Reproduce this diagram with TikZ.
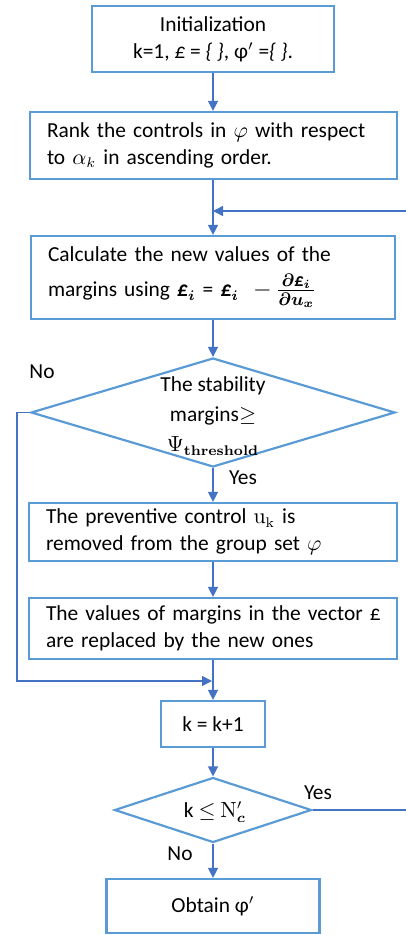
\documentclass[tikz,border=0pt]{standalone}
\usepackage{amsmath}
\usepackage[no-math]{fontspec}
\setmainfont{Carlito}
\usetikzlibrary{shapes.geometric,arrows.meta}
\definecolor{boxblue}{HTML}{5B9BD5}
\definecolor{arrblue}{HTML}{4472C4}
\newcommand\nbr[1]{\mbox{#1}}
\begin{document}
\begin{tikzpicture}[x=0.5pt,y=-0.5pt,
  font=\fontsize{10.7}{13.5}\selectfont,
  box/.style={draw=boxblue, line width=1.1pt, rectangle, inner sep=0pt, align=center},
  lbox/.style={box, align=left, inner xsep=8.5pt},
  dec/.style={draw=boxblue, line width=1.1pt, diamond, inner sep=0pt},
  conn/.style={draw=arrblue, line width=0.7pt},
  arr/.style={conn, -{Triangle[length=5pt,width=5pt]}},
  lbl/.style={inner sep=0pt}
]
\useasboundingbox (0,0) rectangle (406,935);
\node[box, minimum width=121pt, minimum height=33pt] (init) at (213,39)
  {Initialization\\k=1, \textit{£} = \textit{\{ \}}, φ$'$ =\textit{\{ \}}.};
\node[lbox, text width=166.5pt, minimum height=33.5pt] (rank) at (213.5,145.5)
  {\nbr{Rank the controls in $\varphi$ with respect}\\\nbr{to $\alpha_k$ in ascending order.}};
\node[lbox, text width=165pt, minimum height=41.5pt] (calc) at (213,277.5)
  {\nbr{Calculate the new values of the}\\[4pt]\nbr{margins using \textbf{\textit{£}}$_{\boldsymbol{i}}$ = \textbf{\textit{£}}$_{\boldsymbol{i}}$ \ {\fontsize{13}{15}\selectfont$-\,\boldsymbol{\frac{\partial\text{\textbf{\textit{£}}}_i}{\partial u_x}}$}}};
\node[dec, minimum width=182pt, minimum height=54.5pt] (d1) at (213,412.5) {};
\node[lbl, align=center, font=\fontsize{10.7}{15}\selectfont] (d1t) at (213,416)
  {The stability\\margins$\geq$\\$\Psi_{\mathbf{threshold}}$};
\node[lbox, text width=167pt, minimum height=29pt] (prev) at (213,532)
  {\nbr{The preventive control $\mathrm{u}_{\mathrm{k}}$ is}\\\nbr{removed from the group set $\varphi$}};
\node[lbox, text width=167pt, minimum height=30.5pt] (vals) at (213,628.5)
  {\nbr{The values of margins in the vector £}\\\nbr{are replaced by the new ones}};
\node[box, minimum width=52pt, minimum height=23pt] (kinc) at (213,724) {k = k+1};
\node[dec, minimum width=98.5pt, minimum height=32.5pt] (d2) at (213,810) {};
\node[lbl] (d2t) at (215,812) {k $\leq$ $\mathrm{N}'_{\boldsymbol{c}}$};
\node[box, minimum width=106.5pt, minimum height=27pt] (obt) at (213,906) {Obtain φ$'$};
\node[lbl] (no1) at (42,372) {No};
\node[lbl] (yes1) at (243,478) {Yes};
\node[lbl] (yes2) at (318,793) {Yes};
\node[lbl] (no2) at (180,854) {No};
\coordinate (j1) at (213,211);
\coordinate (e1) at (406,211);
\coordinate (e2) at (406,810);
\coordinate (l1) at (17,412.5);
\coordinate (j2) at (212,681);
\draw[arr] (init.south) -- (init.south |- rank.north);
\draw[arr] (rank.south -| calc.north) -- (calc.north);
\draw[arr] (e1) -- (j1);
\draw[arr] (calc.south) -- (d1.north);
\draw[arr] (d1.south) -- (prev.north);
\draw[arr] (prev.south) -- (vals.north);
\draw[arr] (vals.south) -- (kinc.north);
\draw[arr] (d1.west) -- (l1) -- (l1 |- j2) -- (j2);
\draw[arr] (kinc.south) -- (d2.north);
\draw[arr] (d2.south) -- (obt.north);
\draw[conn] (d2.east) -- (e2);
\end{tikzpicture}
\end{document}
